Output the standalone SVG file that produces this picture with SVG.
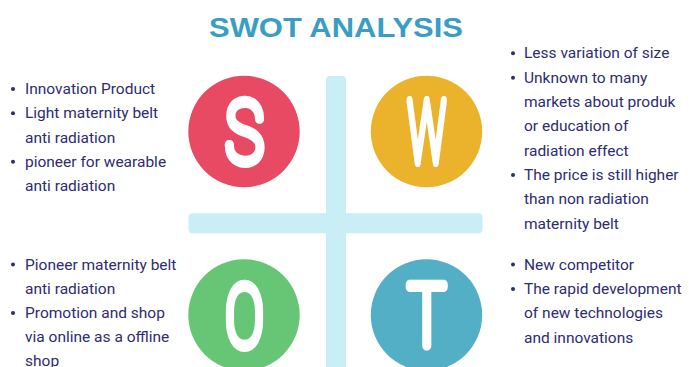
<svg xmlns="http://www.w3.org/2000/svg" width="689" height="367" viewBox="0 0 689 367">
  <style>
    .title { font-family: "Liberation Sans", Arial, sans-serif; font-weight: bold; font-size: 28px; fill: #3A9DC3; }
    .bar { fill: #C9EEF5; }
    .letter { font-family: Roboto, "DejaVu Sans", sans-serif; font-weight: 100; font-size: 86px; fill: #fff; stroke: #fff; stroke-width: 10; stroke-linejoin: round; stroke-linecap: round; text-anchor: middle; }
    .item { font-family: Roboto, "Liberation Sans", sans-serif; font-size: 15.5px; fill: #2E2C6E; }
    .dot { fill: #2E2C6E; }
  </style>

  <rect width="689" height="367" fill="#fff"/>

  <text class="title" x="336" y="37" text-anchor="middle" textLength="254" lengthAdjust="spacingAndGlyphs">SWOT ANALYSIS</text>

  <!-- central cross -->
  <g id="cross">
    <rect class="bar" x="326" y="76" width="20" height="300" rx="4"/>
    <rect class="bar" x="188.5" y="213.3" width="294" height="20" rx="4"/>
  </g>

  <!-- Strengths -->
  <g id="strengths">
    <circle cx="244" cy="131.5" r="55.7" fill="#E84A64"/>
    <text class="letter" x="244.5" y="162" textLength="38" lengthAdjust="spacingAndGlyphs">S</text>
    <circle class="dot" cx="13" cy="89" r="2"/>
    <circle class="dot" cx="13" cy="113.3" r="2"/>
    <circle class="dot" cx="13" cy="161.7" r="2"/>
    <text class="item" x="25" y="94">Innovation Product</text>
    <text class="item" x="25" y="118.3">Light maternity belt</text>
    <text class="item" x="25" y="142.5">anti radiation</text>
    <text class="item" x="25" y="166.7">pioneer for wearable</text>
    <text class="item" x="25" y="191">anti radiation</text>
  </g>

  <!-- Weaknesses -->
  <g id="weaknesses">
    <circle cx="426.5" cy="131.5" r="55.7" fill="#EBB22C"/>
    <text class="letter" x="426.7" y="162" textLength="38" lengthAdjust="spacingAndGlyphs">W</text>
    <circle class="dot" cx="513" cy="53.3" r="2"/>
    <circle class="dot" cx="513" cy="77.7" r="2"/>
    <circle class="dot" cx="513" cy="175" r="2"/>
    <text class="item" x="524" y="58.3">Less variation of size</text>
    <text class="item" x="524" y="82.7">Unknown to many</text>
    <text class="item" x="524" y="107">markets about produk</text>
    <text class="item" x="524" y="131.3">or education of</text>
    <text class="item" x="524" y="155.6">radiation effect</text>
    <text class="item" x="524" y="180">The price is still higher</text>
    <text class="item" x="524" y="204.3">than non radiation</text>
    <text class="item" x="524" y="228.6">maternity belt</text>
  </g>

  <!-- Opportunities -->
  <g id="opportunities">
    <circle cx="244" cy="315" r="55.7" fill="#67C675"/>
    <text class="letter" x="244.5" y="345.5" textLength="38" lengthAdjust="spacingAndGlyphs">O</text>
    <circle class="dot" cx="13" cy="264.5" r="2"/>
    <circle class="dot" cx="13" cy="313" r="2"/>
    <text class="item" x="25" y="269.5">Pioneer maternity belt</text>
    <text class="item" x="25" y="293.5">anti radiation</text>
    <text class="item" x="25" y="318">Promotion and shop</text>
    <text class="item" x="25" y="342">via online as a offline</text>
    <text class="item" x="25" y="365.5">shop</text>
  </g>

  <!-- Threats -->
  <g id="threats">
    <circle cx="426.5" cy="315" r="55.7" fill="#52AFC6"/>
    <text class="letter" x="426.7" y="345.5" textLength="38" lengthAdjust="spacingAndGlyphs">T</text>
    <circle class="dot" cx="513" cy="264.5" r="2"/>
    <circle class="dot" cx="513" cy="289" r="2"/>
    <text class="item" x="524" y="269.5">New competitor</text>
    <text class="item" x="524" y="294">The rapid development</text>
    <text class="item" x="524" y="318.3">of new technologies</text>
    <text class="item" x="524" y="342.5">and innovations</text>
  </g>
</svg>
